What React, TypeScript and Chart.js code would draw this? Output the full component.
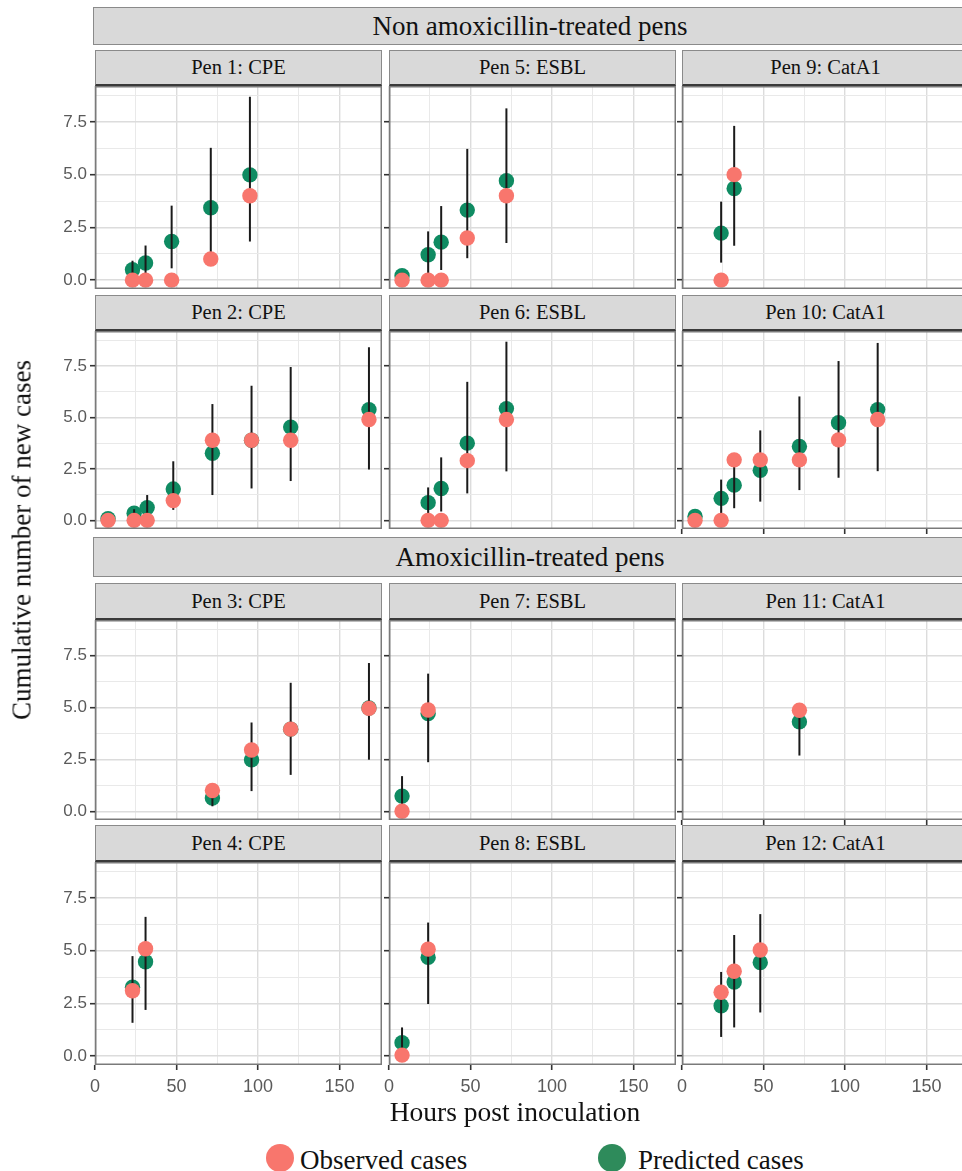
import React, { useEffect, useRef } from "react";
import { Chart, registerables } from "chart.js";

Chart.register(...registerables);

// ---------- data ----------
const X_TICKS = [0, 25, 50, 75, 100, 125, 150];
const X_MAJOR = [0, 50, 100, 150];
const Y_TICKS = [0, 1.25, 2.5, 3.75, 5, 6.25, 7.5, 8.75];
const Y_MAJOR = [0, 2.5, 5, 7.5];

const GROUP_TITLES = ["Non amoxicillin-treated pens", "Amoxicillin-treated pens"];
const X_TITLE = "Hours post inoculation";
const Y_TITLE = "Cumulative number of new cases";
const LEGEND_LABELS = ["Observed cases", "Predicted cases"];

const pen1 = { title: "Pen 1: CPE", hours: [23, 31, 47, 71, 95], observed: [0, 0, 0, 1, 4], predicted: [0.49, 0.81, 1.83, 3.43, 4.99], lower: [0.05, 0.05, 0.56, 0.9, 1.83], upper: [0.92, 1.64, 3.53, 6.27, 8.69] };
const pen5 = { title: "Pen 5: ESBL", hours: [8, 24, 32, 48, 72], observed: [0, 0, 0, 2, 4], predicted: [0.21, 1.2, 1.8, 3.32, 4.71], lower: [0.05, 0.08, 0.48, 1.04, 1.76], upper: [0.35, 2.31, 3.51, 6.22, 8.14] };
const pen9 = { title: "Pen 9: CatA1", hours: [24, 32], observed: [0, 5], predicted: [2.23, 4.34], lower: [0.83, 1.63], upper: [3.72, 7.31] };
const pen2 = { title: "Pen 2: CPE", hours: [8, 24, 32, 48, 72, 96, 120, 168], observed: [0, 0, 0, 0.96, 3.89, 3.89, 3.89, 4.9], predicted: [0.08, 0.35, 0.62, 1.52, 3.26, 3.89, 4.53, 5.38], lower: [0.05, 0.1, 0.05, 0.51, 1.23, 1.55, 1.91, 2.47], upper: [0.1, 0.54, 1.23, 2.87, 5.65, 6.54, 7.45, 8.41] };
const pen6 = { title: "Pen 6: ESBL", hours: [24, 32, 48, 72], observed: [0, 0, 2.9, 4.9], predicted: [0.86, 1.55, 3.75, 5.43], lower: [0.05, 0.43, 1.31, 2.38], upper: [1.6, 3.06, 6.73, 8.68] };
const pen10 = { title: "Pen 10: CatA1", hours: [8, 24, 32, 48, 72, 96, 120], observed: [0, 0, 2.94, 2.94, 2.94, 3.91, 4.9], predicted: [0.19, 1.07, 1.71, 2.43, 3.59, 4.74, 5.38], lower: [0.05, 0.11, 0.59, 0.91, 1.47, 2.07, 2.39], upper: [0.3, 1.98, 2.9, 4.37, 6.02, 7.74, 8.62] };
const pen3 = { title: "Pen 3: CPE", hours: [72, 96, 120, 168], observed: [1, 2.95, 3.95, 4.95], predicted: [0.64, 2.47, 3.95, 4.97], lower: [0.24, 0.97, 1.75, 2.48], upper: [1.0, 4.27, 6.18, 7.13] };
const pen7 = { title: "Pen 7: ESBL", hours: [8, 24], observed: [0, 4.87], predicted: [0.73, 4.7], lower: [0.05, 2.36], upper: [1.69, 6.62] };
const pen11 = { title: "Pen 11: CatA1", hours: [72], observed: [4.86], predicted: [4.3], lower: [2.68], upper: [4.9] };
const pen4 = { title: "Pen 4: CPE", hours: [23, 31], observed: [3.1, 5.09], predicted: [3.27, 4.47], lower: [1.58, 2.19], upper: [4.74, 6.6] };
const pen8 = { title: "Pen 8: ESBL", hours: [8, 24], observed: [0.05, 5.07], predicted: [0.64, 4.68], lower: [0.05, 2.47], upper: [1.36, 6.33] };
const pen12 = { title: "Pen 12: CatA1", hours: [24, 32, 48], observed: [3.03, 4.02, 5.03], predicted: [2.39, 3.51, 4.44], lower: [0.91, 1.36, 2.07], upper: [3.99, 5.74, 6.73] };

const PEN_GRID = [
  [pen1, pen5, pen9],
  [pen2, pen6, pen10],
  [pen3, pen7, pen11],
  [pen4, pen8, pen12],
];

// ---------- style / layout ----------
const OBS_COLOR = "#F8766D";
const PRED_COLOR = "#0F8B62";
const LEGEND_PRED = "#2E8B5B";
const SERIF = "'Liberation Serif', 'Times New Roman', serif";
const SANS = "'Liberation Sans', Arial, sans-serif";
const X_MIN = 0;
const X_MAX = 176;
const Y_MIN = -0.42;
const Y_MAX = 9.2;

const COL_LEFT = [95, 389, 682];
const PANEL_W = 287;
const ROWS = [
  { stripTop: 50, panelTop: 86, panelH: 203 },
  { stripTop: 295, panelTop: 331, panelH: 198 },
  { stripTop: 583, panelTop: 620, panelH: 200 },
  { stripTop: 825, panelTop: 862, panelH: 203 },
];
const HEADERS = [
  { top: 7, height: 38 },
  { top: 537, height: 40 },
];

type Pen = typeof pen1;

function Panel(props: {
  pen: Pen;
  left: number;
  top: number;
  height: number;
  yLabels: boolean;
  xLabels: boolean;
  xMarks: boolean;
}) {
  const { pen, left, top, height, yLabels, xLabels, xMarks } = props;
  const ref = useRef<HTMLCanvasElement>(null);
  const padL = yLabels ? 62 : 6;
  const padB = xLabels ? 36 : xMarks ? 6 : 1;
  const w = PANEL_W + padL;
  const h = height + padB;

  useEffect(() => {
    const errorBars = {
      id: "errorBars",
      afterDatasetDraw(chart: any, args: any) {
        if (args.index !== 1) return;
        const ctx = chart.ctx;
        const xs = chart.scales.x;
        const ys = chart.scales.y;
        ctx.save();
        ctx.strokeStyle = "#1a1a1a";
        ctx.lineWidth = 2;
        pen.hours.forEach((hr, i) => {
          const x = xs.getPixelForValue(hr);
          ctx.beginPath();
          ctx.moveTo(x, ys.getPixelForValue(pen.lower[i]));
          ctx.lineTo(x, ys.getPixelForValue(pen.upper[i]));
          ctx.stroke();
        });
        ctx.restore();
      },
    };
    const frame = {
      id: "frame",
      afterDraw(chart: any) {
        const { left: l, top: t, right: r, bottom: b } = chart.chartArea;
        const ctx = chart.ctx;
        ctx.save();
        ctx.strokeStyle = "#7a7a7a";
        ctx.lineWidth = 1.5;
        ctx.strokeRect(l + 0.75, t + 0.75, r - l - 1.5, b - t - 1.5);
        ctx.restore();
      },
    };
    const chart = new Chart(ref.current as HTMLCanvasElement, {
      type: "scatter",
      data: {
        datasets: [
          {
            label: LEGEND_LABELS[0],
            data: pen.hours.map((hr, i) => ({ x: hr, y: pen.observed[i] })),
            backgroundColor: OBS_COLOR,
            borderWidth: 0,
            pointRadius: 7.7,
            pointHoverRadius: 7.7,
            clip: false,
          },
          {
            label: LEGEND_LABELS[1],
            data: pen.hours.map((hr, i) => ({ x: hr, y: pen.predicted[i] })),
            backgroundColor: PRED_COLOR,
            borderWidth: 0,
            pointRadius: 7.7,
            pointHoverRadius: 7.7,
            clip: false,
          },
        ],
      },
      options: {
        animation: false,
        responsive: false,
        maintainAspectRatio: false,
        events: [],
        layout: { padding: 0, autoPadding: false },
        plugins: { legend: { display: false }, tooltip: { enabled: false } },
        scales: {
          x: {
            type: "linear",
            min: X_MIN,
            max: X_MAX,
            afterBuildTicks: (s: any) => {
              s.ticks = X_TICKS.map((v) => ({ value: v }));
            },
            afterFit: (s: any) => {
              s.height = padB;
              s.paddingLeft = 0;
              s.paddingRight = 0;
            },
            border: { display: false },
            grid: {
              color: (c: any) => (X_MAJOR.includes(c.tick?.value) ? "#dcdcdc" : "#e9e9e9"),
              lineWidth: (c: any) => (X_MAJOR.includes(c.tick?.value) ? 1.4 : 1),
              drawTicks: true,
              tickLength: xLabels || xMarks ? 5 : 0,
              tickWidth: 1.6,
              tickColor: (c: any) =>
                (xLabels || xMarks) && X_MAJOR.includes(c.tick?.value) ? "#333333" : "rgba(0,0,0,0)",
            },
            ticks: {
              display: xLabels,
              autoSkip: false,
              maxRotation: 0,
              padding: 6,
              color: "#5a5a5a",
              font: { family: SANS, size: 18 },
              callback: (v: any) => (X_MAJOR.includes(Number(v)) ? String(v) : ""),
            },
          },
          y: {
            type: "linear",
            min: Y_MIN,
            max: Y_MAX,
            afterBuildTicks: (s: any) => {
              s.ticks = Y_TICKS.map((v) => ({ value: v }));
            },
            afterFit: (s: any) => {
              s.width = padL;
              s.paddingTop = 0;
              s.paddingBottom = 0;
            },
            border: { display: false },
            grid: {
              color: (c: any) => (Y_MAJOR.includes(c.tick?.value) ? "#dcdcdc" : "#e9e9e9"),
              lineWidth: (c: any) => (Y_MAJOR.includes(c.tick?.value) ? 1.4 : 1),
              drawTicks: true,
              tickLength: 5,
              tickWidth: 1.6,
              tickColor: (c: any) => (Y_MAJOR.includes(c.tick?.value) ? "#333333" : "rgba(0,0,0,0)"),
            },
            ticks: {
              display: yLabels,
              autoSkip: false,
              padding: 3,
              color: "#5a5a5a",
              font: { family: SANS, size: 17 },
              callback: (v: any) => (Y_MAJOR.includes(Number(v)) ? Number(v).toFixed(1) : ""),
            },
          },
        },
      } as any,
      plugins: [errorBars, frame],
    });
    return () => chart.destroy();
  }, []);

  return (
    <canvas
      ref={ref}
      width={w}
      height={h}
      style={{ position: "absolute", left: left - padL, top, width: w, height: h }}
    />
  );
}

export default function App() {
  const elems: any[] = [];
  HEADERS.forEach((hd, i) => {
    elems.push(
      <div
        key={"hdr" + i}
        style={{
          position: "absolute",
          left: 93,
          top: hd.top,
          width: 874,
          height: hd.height,
          boxSizing: "border-box",
          background: "#d9d9d9",
          border: "1.5px solid #8a8a8a",
          display: "flex",
          alignItems: "center",
          justifyContent: "center",
          fontFamily: SERIF,
          fontSize: 27,
          color: "#111",
        }}
      >
        {GROUP_TITLES[i]}
      </div>
    );
  });
  ROWS.forEach((row, r) => {
    COL_LEFT.forEach((left, c) => {
      const pen = PEN_GRID[r][c];
      elems.push(
        <div
          key={"strip" + r + c}
          style={{
            position: "absolute",
            left,
            top: row.stripTop,
            width: PANEL_W,
            height: row.panelTop - row.stripTop,
            boxSizing: "border-box",
            background: "#d9d9d9",
            border: "1.5px solid #8a8a8a",
            borderBottom: "2px solid #3a3a3a",
            display: "flex",
            alignItems: "center",
            justifyContent: "center",
            fontFamily: SERIF,
            fontSize: 20.5,
            color: "#111",
          }}
        >
          {pen.title}
        </div>
      );
      elems.push(
        <Panel
          key={"panel" + r + c}
          pen={pen}
          left={left}
          top={row.panelTop}
          height={row.panelH}
          yLabels={c === 0}
          xLabels={r === 3}
          xMarks={c === 2 && (r === 1 || r === 2)}
        />
      );
    });
  });

  return (
    <div
      style={{
        position: "absolute",
        left: 0,
        top: 0,
        width: 962,
        height: 1171,
        overflow: "hidden",
        background: "#fff",
      }}
    >
      {elems}
      <div
        style={{
          position: "absolute",
          left: 22,
          top: 540,
          transform: "translate(-50%, -50%) rotate(-90deg)",
          whiteSpace: "nowrap",
          fontFamily: SERIF,
          fontSize: 27,
          color: "#111",
        }}
      >
        {Y_TITLE}
      </div>
      <div
        style={{
          position: "absolute",
          left: 515,
          top: 1112,
          transform: "translate(-50%, -50%)",
          whiteSpace: "nowrap",
          fontFamily: SERIF,
          fontSize: 27.5,
          color: "#111",
        }}
      >
        {X_TITLE}
      </div>
      {[
        { cx: 280, color: OBS_COLOR, textLeft: 300 },
        { cx: 612, color: LEGEND_PRED, textLeft: 638 },
      ].map((lg, i) => (
        <React.Fragment key={"lg" + i}>
          <div
            style={{
              position: "absolute",
              left: lg.cx - 14,
              top: 1158 - 14,
              width: 28,
              height: 28,
              borderRadius: "50%",
              background: lg.color,
            }}
          />
          <div
            style={{
              position: "absolute",
              left: lg.textLeft,
              top: 1160,
              transform: "translateY(-50%)",
              whiteSpace: "nowrap",
              fontFamily: SERIF,
              fontSize: 27,
              color: "#111",
            }}
          >
            {LEGEND_LABELS[i]}
          </div>
        </React.Fragment>
      ))}
    </div>
  );
}
